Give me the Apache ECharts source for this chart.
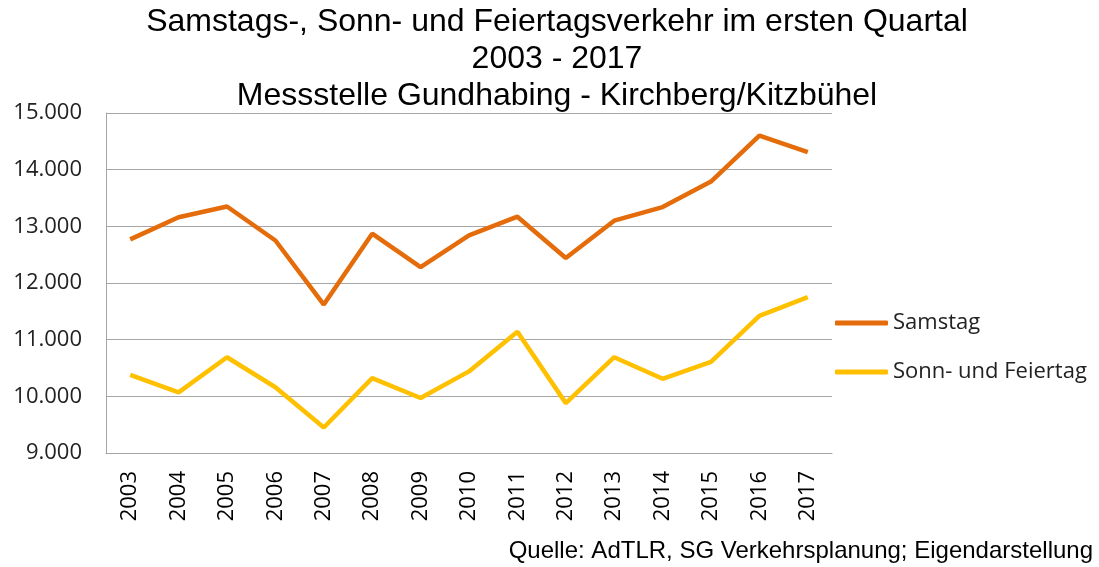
<!DOCTYPE html>
<html>
<head>
<meta charset="utf-8">
<script src="https://cdn.jsdelivr.net/npm/echarts@6/dist/echarts.min.js"></script>
<style>
html, body { margin: 0; padding: 0; background: #fff; }
#chart { width: 1099px; height: 567px; }
</style>
</head>
<body>
<div id="chart"></div>
<script>
// Werte
var years = ['2003','2004','2005','2006','2007','2008','2009','2010','2011','2012','2013','2014','2015','2016','2017'];
var samstag = [12770, 13160, 13350, 12750, 11620, 12870, 12280, 12840, 13170, 12440, 13100, 13340, 13790, 14600, 14310];
var sonnFeiertag = [10380, 10070, 10690, 10160, 9450, 10320, 9970, 10440, 11140, 9880, 10690, 10310, 10610, 11420, 11750];
var titleLines = ['Samstags-, Sonn- und Feiertagsverkehr im ersten Quartal', '2003 - 2017', 'Messstelle Gundhabing - Kirchberg/Kitzbühel'];
var seriesNames = ['Samstag', 'Sonn- und Feiertag'];
var source = 'Quelle: AdTLR, SG Verkehrsplanung; Eigendarstellung';

var myChart = echarts.init(document.getElementById('chart'));

var titleFont = { fontFamily: 'Liberation Sans', fontSize: 32, fontWeight: 'normal', color: '#000' };
var titleTops = [6, 43, 80];

var option = {
    animation: false,
    // Titel leicht rechts von der Mitte wie im Original
    title: titleLines.map(function (t, i) {
        return { text: t, left: 557, textAlign: 'center', top: titleTops[i], padding: 0, textStyle: titleFont };
    }),
    grid: { left: 106, right: 267, top: 113, bottom: 114 },
    legend: {
        data: seriesNames,
        orient: 'vertical',
        left: 830,
        top: 306,
        icon: 'roundRect',
        itemWidth: 53,
        itemHeight: 5,
        itemGap: 25,
        textStyle: { fontFamily: 'Open Sans', fontSize: 22, color: '#222', lineHeight: 24 }
    },
    xAxis: {
        type: 'category',
        data: years,
        boundaryGap: true,
        axisLine: { lineStyle: { color: '#a6a6a6', width: 1 } },
        axisTick: { show: false },
        axisLabel: { rotate: 90, margin: 18, fontFamily: 'Open Sans', fontSize: 22, color: '#000' }
    },
    yAxis: {
        type: 'value',
        min: 9000,
        max: 15000,
        interval: 1000,
        axisLine: { show: true, lineStyle: { color: '#a6a6a6', width: 1 } },
        axisTick: { show: false },
        splitLine: { lineStyle: { color: '#a6a6a6', width: 1 } },
        axisLabel: {
            margin: 24,
            fontFamily: 'Open Sans',
            fontSize: 22,
            color: '#222',
            formatter: function (v) { return v.toLocaleString('de-DE'); }
        }
    },
    series: [
        {
            name: seriesNames[0],
            type: 'line',
            data: samstag,
            symbol: 'none',
            lineStyle: { color: '#e46c0a', width: 4.5 },
            itemStyle: { color: '#e46c0a' }
        },
        {
            name: seriesNames[1],
            type: 'line',
            data: sonnFeiertag,
            symbol: 'none',
            lineStyle: { color: '#ffc000', width: 4.5 },
            itemStyle: { color: '#ffc000' }
        }
    ],
    graphic: [
        {
            type: 'text',
            right: 6,
            top: 539,
            style: { text: source, fontFamily: 'Liberation Sans', fontSize: 24, fill: '#000' }
        }
    ]
};
myChart.setOption(option);
</script>
</body>
</html>
